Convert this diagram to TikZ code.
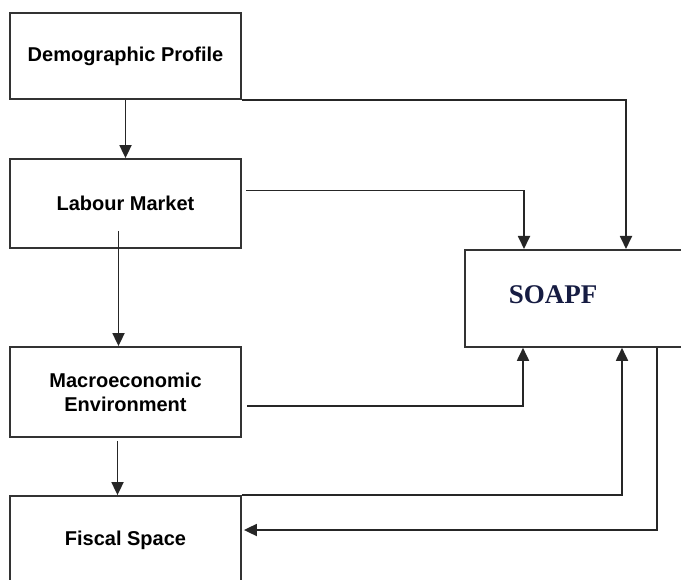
\documentclass[tikz,border=0pt]{standalone}
\usepackage{fontspec}
\setmainfont{Liberation Sans}
\newfontfamily\soapffont{Liberation Serif}
\usepackage{xcolor}
\usetikzlibrary{arrows.meta}
\definecolor{soapfblue}{RGB}{22,28,66}
\tikzset{
    blk/.style={draw=black!80, line width=1.8pt, minimum width=231pt,
        font=\fontsize{20}{24}\selectfont\bfseries, align=center},
    arr/.style={draw=black!85, line width=1.8pt,
        -{Triangle[length=13pt,width=12pt]}}
}

\begin{document}
\begin{tikzpicture}[x=1pt, y=-1pt]
    \useasboundingbox (0, 0) rectangle (681, 580);

    \path (125.5, 56) node [blk, minimum height=86pt] (dp) {Demographic Profile};
    \path (125.5, 203.5) node [blk, minimum height=89pt] (lm) {Labour Market};
    \path (125.5, 392) node [blk, minimum height=90pt] (mac)
	{Macroeconomic\\Environment};
    \path (125.5, 540) node [blk, minimum height=88pt] (fs) {Fiscal Space};
    \path (464, 249) node [draw=black!80, line width=1.8pt, anchor=north west,
	minimum height=97pt, text width=240pt, align=left, inner xsep=44pt,
	text depth=8pt, font=\soapffont\fontsize{27}{30}\selectfont\bfseries,
	text=soapfblue] (soapf) {SOAPF};

    \draw [arr] (dp.south) -- (lm.north);
    \draw [arr] (dp.south east) -| ([xshift=162pt]soapf.north west);
    \draw [arr] ([shift={(4,-13)}]lm.east) -| ([xshift=60pt]soapf.north west);
    \draw [arr] ([shift={(-7,-18)}]lm.south) -- ([xshift=-7pt]mac.north);
    \draw [arr] ([shift={(5,14)}]mac.east) -| ([xshift=59pt]soapf.south west);
    \draw [arr] ([shift={(-8,3)}]mac.south) -- ([xshift=-8pt]fs.north);
    \draw [arr] (fs.north east) -| ([xshift=158pt]soapf.south west);
    \draw [arr] ([xshift=193pt]soapf.south west) |- ([shift={(2,-10)}]fs.east);
\end{tikzpicture}
\end{document}
